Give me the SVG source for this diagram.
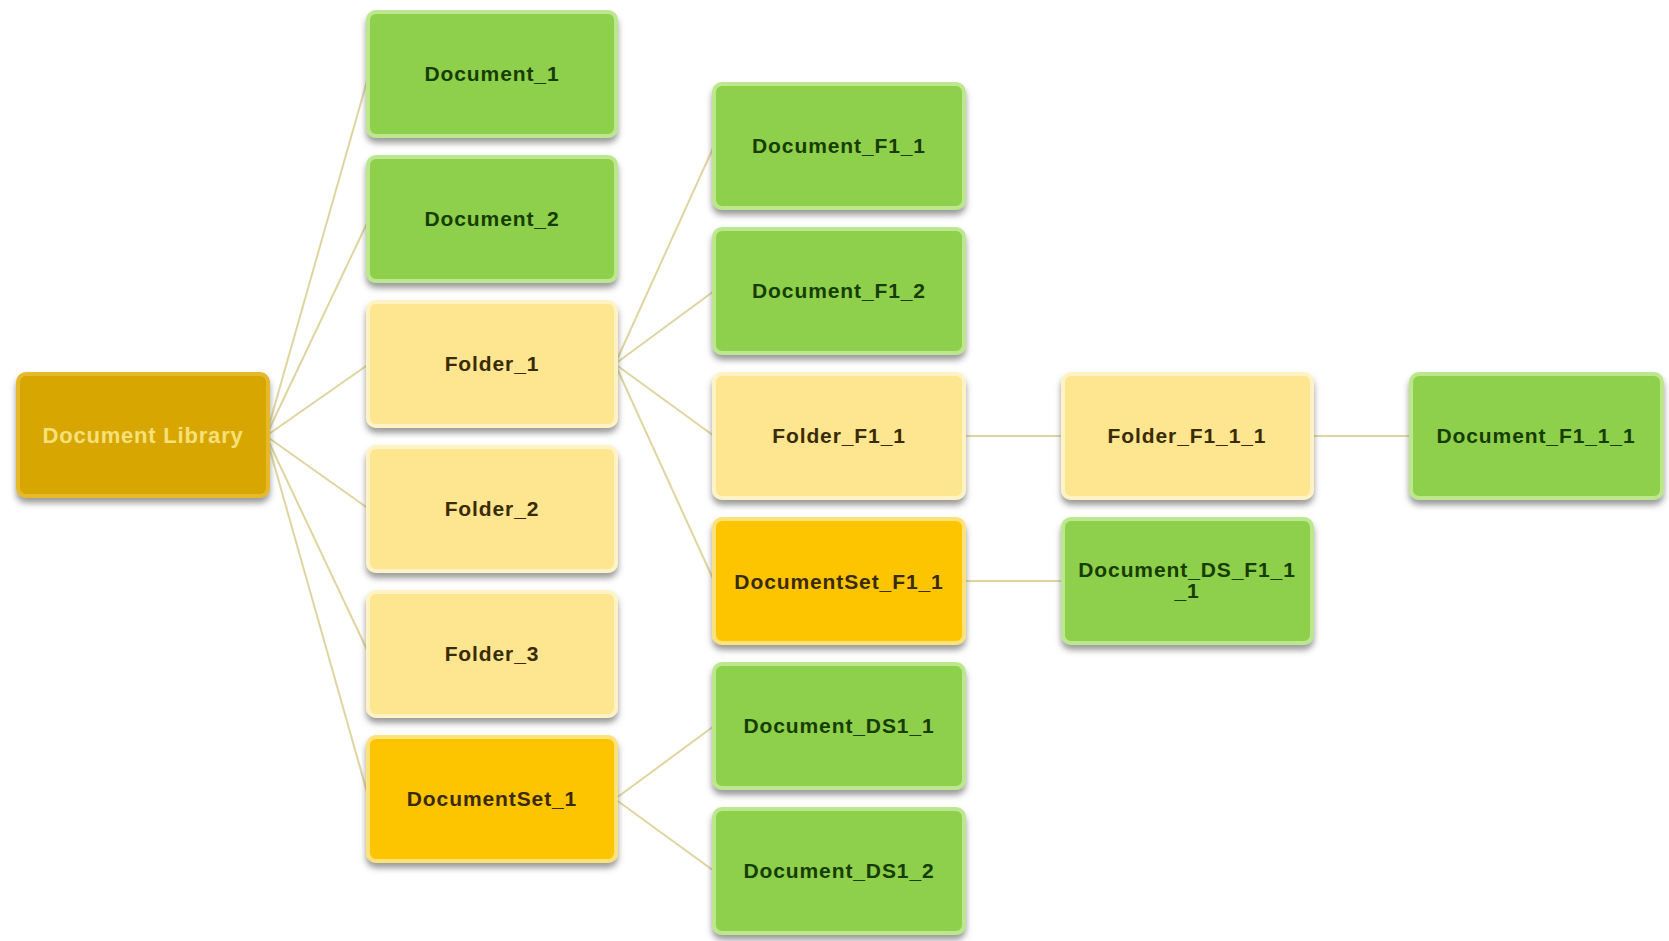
<svg xmlns="http://www.w3.org/2000/svg" width="1669" height="941" viewBox="0 0 1669 941">
<defs>
<filter id="sh" x="-10%" y="-10%" width="120%" height="130%">
<feDropShadow dx="0" dy="5" stdDeviation="3" flood-color="#555" flood-opacity="0.6"/>
</filter>
<style>
.bx{filter:url(#sh);stroke-width:4}
.green{fill:#8ed04c;stroke:#bde78f}
.light{fill:#fde68f;stroke:#fff3c6}
.gold{fill:#fdc400;stroke:#fde27a}
.root{fill:#d8a600;stroke:#e6b92a}
.t{font-family:"Liberation Sans",Arial,sans-serif;font-weight:bold;font-size:21px;letter-spacing:0.9px;text-anchor:middle}
.tg{fill:#173d00}
.ty{fill:#3a2b05}
.tr{fill:#f6e07a;font-size:22px;letter-spacing:0.8px}
.c{stroke:#e0d5a0;stroke-width:2;fill:none}
</style>
</defs>
<rect width="1669" height="941" fill="#ffffff"/>
<g id="connectors">
<line class="c" x1="266" y1="436" x2="369" y2="74"/>
<line class="c" x1="266" y1="436" x2="369" y2="219"/>
<line class="c" x1="266" y1="436" x2="369" y2="364"/>
<line class="c" x1="266" y1="436" x2="369" y2="509"/>
<line class="c" x1="266" y1="436" x2="369" y2="654"/>
<line class="c" x1="266" y1="436" x2="369" y2="799"/>
<line class="c" x1="615" y1="364" x2="714" y2="146"/>
<line class="c" x1="615" y1="364" x2="714" y2="291"/>
<line class="c" x1="615" y1="364" x2="714" y2="436"/>
<line class="c" x1="615" y1="364" x2="714" y2="581"/>
<line class="c" x1="615" y1="799" x2="714" y2="726"/>
<line class="c" x1="615" y1="799" x2="714" y2="871"/>
<line class="c" x1="963" y1="436" x2="1064" y2="436"/>
<line class="c" x1="963" y1="581" x2="1064" y2="581"/>
<line class="c" x1="1311" y1="436" x2="1412" y2="436"/>
</g>
<g id="n_library"><rect class="bx root" x="18" y="374" width="250" height="122" rx="8"/><text class="t tr" x="143" y="443">Document Library</text></g>
<g id="n_doc1"><rect class="bx green" x="368" y="12" width="248" height="124" rx="8"/><text class="t tg" x="492" y="81">Document_1</text></g>
<g id="n_doc2"><rect class="bx green" x="368" y="157" width="248" height="124" rx="8"/><text class="t tg" x="492" y="226">Document_2</text></g>
<g id="n_folder1"><rect class="bx light" x="368" y="302" width="248" height="124" rx="8"/><text class="t ty" x="492" y="371">Folder_1</text></g>
<g id="n_folder2"><rect class="bx light" x="368" y="447" width="248" height="124" rx="8"/><text class="t ty" x="492" y="516">Folder_2</text></g>
<g id="n_folder3"><rect class="bx light" x="368" y="592" width="248" height="124" rx="8"/><text class="t ty" x="492" y="661">Folder_3</text></g>
<g id="n_docset1"><rect class="bx gold" x="368" y="737" width="248" height="124" rx="8"/><text class="t ty" x="492" y="806">DocumentSet_1</text></g>
<g id="n_docf1_1"><rect class="bx green" x="714" y="84" width="250" height="124" rx="8"/><text class="t tg" x="839" y="153">Document_F1_1</text></g>
<g id="n_docf1_2"><rect class="bx green" x="714" y="229" width="250" height="124" rx="8"/><text class="t tg" x="839" y="298">Document_F1_2</text></g>
<g id="n_folderf1_1"><rect class="bx light" x="714" y="374" width="250" height="124" rx="8"/><text class="t ty" x="839" y="443">Folder_F1_1</text></g>
<g id="n_docsetf1_1"><rect class="bx gold" x="714" y="519" width="250" height="124" rx="8"/><text class="t ty" x="839" y="589">DocumentSet_F1_1</text></g>
<g id="n_docds1_1"><rect class="bx green" x="714" y="664" width="250" height="124" rx="8"/><text class="t tg" x="839" y="733">Document_DS1_1</text></g>
<g id="n_docds1_2"><rect class="bx green" x="714" y="809" width="250" height="124" rx="8"/><text class="t tg" x="839" y="878">Document_DS1_2</text></g>
<g id="n_folderf1_1_1"><rect class="bx light" x="1063" y="374" width="249" height="124" rx="8"/><text class="t ty" x="1187" y="443">Folder_F1_1_1</text></g>
<g id="n_docdsf1_1_1"><rect class="bx green" x="1063" y="519" width="249" height="124" rx="8"/><text class="t tg" x="1187" y="577">Document_DS_F1_1</text><text class="t tg" x="1187" y="598">_1</text></g>
<g id="n_docf1_1_1"><rect class="bx green" x="1411" y="374" width="251" height="124" rx="8"/><text class="t tg" x="1536" y="443">Document_F1_1_1</text></g>
</svg>
